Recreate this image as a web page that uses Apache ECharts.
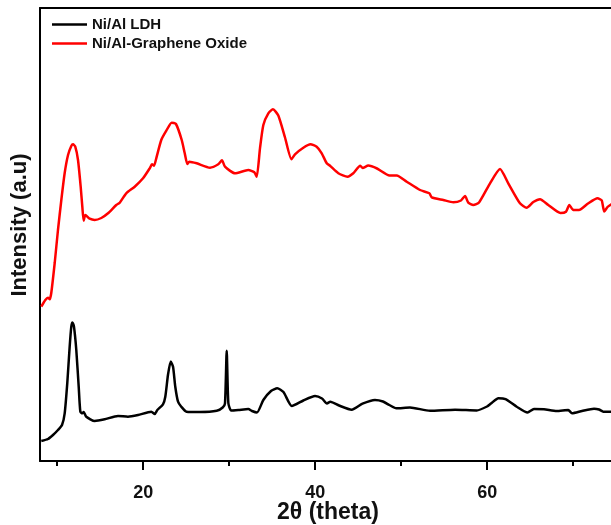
<!DOCTYPE html>
<html>
<head>
<meta charset="utf-8">
<script src="https://cdn.jsdelivr.net/npm/echarts@6/dist/echarts.min.js"></script>
<style>
  html, body { margin: 0; padding: 0; background: #fff; }
  #chart { width: 611px; height: 525px; }
</style>
</head>
<body>
<div id="chart"></div>
<script>
// XRD patterns: 2θ positions (degrees) and intensities (a.u.)
const ldhTheta = [8.15, 8.93, 9.51, 10.09, 10.56, 10.87, 11.17, 11.45, 11.64, 11.78, 11.95, 12.22, 12.50, 12.69, 12.92, 13.08, 13.38, 14.36, 15.52, 17.07, 18.23, 19.40, 20.94, 21.34, 21.64, 22.30, 22.57, 22.88, 23.20, 23.47, 23.73, 24.05, 24.43, 25.03, 26.60, 28.55, 29.24, 29.51, 29.71, 29.90, 30.23, 31.06, 32.22, 32.65, 33.23, 33.97, 34.86, 35.59, 36.31, 37.28, 38.62, 39.98, 40.79, 41.37, 41.76, 42.77, 44.24, 45.50, 46.95, 47.88, 48.62, 49.43, 51.02, 53.35, 56.26, 58.78, 59.98, 60.44, 61.31, 62.13, 63.43, 64.69, 65.44, 66.60, 68.08, 69.43, 69.86, 71.02, 72.42, 73.00, 73.50, 74.40, 75.00];
const ldhIntensity = [20, 22, 26, 31, 36, 47.7, 77.7, 114.3, 134.3, 138.5, 134.3, 111, 74.3, 49.3, 47.7, 49, 44.3, 40, 41.7, 45, 44.3, 46, 49.3, 47, 51, 56.7, 64.3, 86, 99.5, 94.3, 74.3, 59.3, 54.3, 49.3, 49, 50.2, 53.5, 57.7, 110.3, 58, 50.5, 51, 52, 50, 48.5, 61, 70, 72.7, 69, 55, 60.5, 65, 62.5, 57.5, 59.3, 55.5, 51.3, 57.3, 61, 59.5, 56, 52.7, 53.5, 50.2, 51.3, 50.5, 54.5, 57.5, 62.7, 61.8, 54.3, 48.5, 52, 51.8, 50, 51, 47.7, 50, 52.3, 51.5, 49.3, 49.3, 49.5];

const goTheta = [8.15, 8.62, 8.93, 9.13, 9.31, 9.71, 10.09, 10.48, 10.87, 11.26, 11.64, 11.84, 12.10, 12.42, 12.73, 12.92, 13.08, 13.27, 13.78, 14.36, 15.13, 15.91, 16.87, 17.27, 18.03, 19.01, 19.98, 20.76, 21.02, 21.26, 21.52, 22.10, 22.69, 23.31, 23.81, 24.48, 24.83, 25.13, 25.36, 26.22, 27.77, 28.73, 29.16, 29.51, 30.67, 32.22, 32.92, 33.20, 33.58, 33.97, 34.55, 35.09, 35.71, 36.49, 37.24, 37.65, 38.62, 39.45, 40.17, 40.76, 41.34, 41.72, 42.69, 43.76, 44.43, 45.24, 45.52, 46.17, 47.19, 48.64, 49.48, 50.64, 52.19, 53.27, 53.55, 54.90, 56.06, 56.95, 57.42, 57.80, 58.38, 59.05, 60.33, 61.49, 62.45, 63.81, 64.59, 65.36, 66.14, 67.10, 68.52, 69.16, 69.55, 70.01, 70.67, 71.72, 72.83, 73.31, 73.61, 73.99, 74.40, 75.00];
const goIntensity = [154.3, 161, 163.3, 161.7, 168, 198, 231, 261, 288, 306, 315, 316.7, 314.3, 301, 274.3, 254.3, 240.3, 246, 242.3, 241, 243, 247.7, 256, 258.3, 267.7, 274.3, 282.7, 292.7, 296.7, 295.3, 302.7, 321, 330.3, 338.3, 337, 321, 307.7, 297, 299.3, 297.7, 293.3, 296.7, 300.7, 294.3, 287.7, 291, 288.7, 284.3, 312.7, 336, 347.7, 351.7, 345.5, 323.5, 301.7, 306.7, 313.3, 316.8, 314.3, 307.7, 297.7, 295.3, 287.7, 284.3, 287.7, 295.3, 293, 295.5, 292.5, 285.5, 285.5, 279.3, 271, 267.7, 263.7, 261, 258.7, 260.5, 265, 258.3, 256, 258.5, 277.7, 292, 277.7, 257.7, 253.3, 259, 261.8, 256, 248, 249.3, 256, 251, 251, 257.5, 262.7, 260.7, 249.5, 254, 256.5, 259];

const majorTicks = [20, 40, 60];
const minorTicks = [10, 30, 50, 70];
const seriesNames = ['Ni/Al LDH', 'Ni/Al-Graphene Oxide'];

const pairs = (xs, ys) => xs.map((x, i) => [x, ys[i]]);

const FONT = '"Liberation Sans", Arial, sans-serif';
// plot spans x = 40..611 px at 8.6 px per degree
const X_MIN = 8;
const X_MAX = 8 + 571 / 8.6;

const chart = echarts.init(document.getElementById('chart'), null, { renderer: 'canvas' });

chart.setOption({
  animation: false,
  backgroundColor: '#ffffff',
  grid: { left: 40, top: 8, right: 0, bottom: 64, containLabel: false },
  legend: {
    orient: 'vertical',
    left: 47,
    top: 11,
    itemWidth: 35,
    itemHeight: 2.5,
    itemGap: 2,
    icon: 'rect',
    textStyle: { fontFamily: FONT, fontWeight: 'bold', fontSize: 15, color: '#111', lineHeight: 17 },
    data: seriesNames
  },
  xAxis: [
    {
      type: 'value', min: X_MIN, max: X_MAX, position: 'bottom',
      axisLine: { show: true, onZero: false, lineStyle: { color: '#000', width: 2 } },
      axisTick: { show: true, customValues: majorTicks, length: 9, lineStyle: { color: '#000', width: 2 } },
      axisLabel: { show: true, customValues: majorTicks, margin: 23, fontFamily: FONT, fontWeight: 'bold', fontSize: 18, color: '#111' },
      splitLine: { show: false }
    },
    {
      type: 'value', min: X_MIN, max: X_MAX, position: 'bottom', offset: 0,
      axisLine: { show: false },
      axisTick: { show: true, customValues: minorTicks, length: 5, lineStyle: { color: '#000', width: 2 } },
      axisLabel: { show: false },
      splitLine: { show: false }
    },
    {
      type: 'value', min: X_MIN, max: X_MAX, position: 'top',
      axisLine: { show: true, onZero: false, lineStyle: { color: '#000', width: 2 } },
      axisTick: { show: false },
      axisLabel: { show: false },
      splitLine: { show: false }
    }
  ],
  yAxis: {
    type: 'value', min: 0, max: 453,
    axisLine: { show: true, onZero: false, lineStyle: { color: '#000', width: 2 } },
    axisTick: { show: false },
    axisLabel: { show: false },
    splitLine: { show: false }
  },
  graphic: [
    {
      type: 'text', x: 20, y: 225, rotation: Math.PI / 2,
      style: { text: 'Intensity (a.u)', fill: '#111', font: 'bold 22px ' + FONT, align: 'center', verticalAlign: 'middle' }
    },
    {
      type: 'text', x: 328, y: 513,
      style: { text: '2θ (theta)', fill: '#111', font: 'bold 23px ' + FONT, align: 'center', verticalAlign: 'middle' }
    }
  ],
  series: [
    {
      name: seriesNames[0], type: 'line', xAxisIndex: 0, yAxisIndex: 0,
      data: pairs(ldhTheta, ldhIntensity),
      showSymbol: false, smooth: 0.2,
      lineStyle: { color: '#000000', width: 2.5 },
      itemStyle: { color: '#000000' }
    },
    {
      name: seriesNames[1], type: 'line', xAxisIndex: 0, yAxisIndex: 0,
      data: pairs(goTheta, goIntensity),
      showSymbol: false, smooth: 0.2,
      lineStyle: { color: '#ff0000', width: 2.5 },
      itemStyle: { color: '#ff0000' }
    }
  ]
});
</script>
</body>
</html>
